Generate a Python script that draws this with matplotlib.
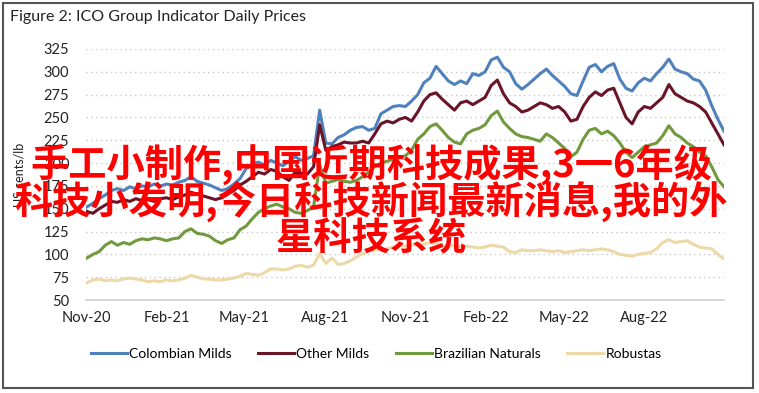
import numpy as np
import pandas as pd
import matplotlib
matplotlib.use("Agg")
import matplotlib.pyplot as plt
import matplotlib.dates as mdates
from matplotlib.patches import Rectangle

# weekly readings (US cents/lb), Nov 2020 - Oct 2022
dates = pd.date_range("2020-11-02", periods=105, freq="7D")

colombian = [152, 156, 161, 165, 170, 172, 170, 174, 172, 175,
             174, 177, 175, 177, 176, 179, 181, 185, 180, 178,
             176, 173, 170, 172, 177, 183, 194, 199, 201, 198,
             203, 200, 197, 202, 207, 203, 205, 208, 258, 222,
             221, 228, 231, 236, 239, 240, 236, 238, 254, 258,
             262, 263, 262, 268, 275, 288, 293, 306, 298, 290,
             286, 290, 287, 298, 296, 300, 313, 316, 305, 300,
             287, 281, 286, 292, 298, 303, 296, 290, 284, 276,
             274, 290, 305, 308, 300, 306, 309, 292, 282, 279,
             288, 293, 290, 298, 305, 314, 303, 300, 298, 292,
             290, 280, 263, 248, 235]

other_milds = [147, 145, 150, 154, 158, 157, 160, 158, 161, 159,
               160, 158, 161, 162, 160, 163, 165, 168, 166, 164,
               162, 160, 162, 166, 170, 176, 180, 185, 190, 188,
               193, 191, 185, 181, 190, 189, 188, 196, 242, 214,
               218, 220, 223, 222, 222, 224, 222, 232, 243, 246,
               244, 248, 250, 246, 256, 268, 275, 277, 270, 264,
               258, 266, 268, 264, 268, 272, 285, 291, 276, 266,
               262, 256, 258, 262, 266, 264, 260, 262, 256, 246,
               248, 262, 272, 278, 274, 280, 282, 266, 250, 243,
               256, 262, 260, 266, 272, 286, 276, 272, 268, 266,
               262, 256, 244, 232, 220]

brazilian = [96, 100, 103, 110, 114, 110, 113, 111, 115, 117,
             116, 118, 117, 115, 117, 118, 125, 128, 123, 122,
             120, 115, 112, 116, 118, 127, 131, 139, 146, 150,
             153, 155, 152, 150, 146, 145, 148, 152, 198, 178,
             180, 182, 180, 179, 181, 185, 190, 196, 200, 202,
             204, 206, 208, 214, 226, 232, 240, 243, 236, 228,
             223, 221, 232, 236, 238, 242, 252, 257, 245, 238,
             232, 229, 228, 226, 224, 232, 228, 222, 216, 207,
             212, 226, 236, 238, 232, 235, 230, 222, 212, 206,
             212, 218, 220, 222, 230, 241, 232, 228, 222, 218,
             212, 208, 196, 182, 174]

robustas = [69, 72, 73, 71, 72, 71, 73, 74, 73, 72,
            70, 71, 70, 72, 71, 72, 74, 77, 75, 73,
            73, 72, 72, 73, 74, 76, 79, 78, 77, 80,
            84, 84, 83, 84, 87, 88, 86, 88, 101, 90,
            96, 89, 90, 93, 97, 101, 104, 105, 105, 106,
            108, 110, 109, 110, 112, 111, 113, 112, 110, 109,
            110, 108, 109, 108, 107, 108, 110, 109, 108, 103,
            102, 105, 104, 104, 105, 104, 103, 104, 102, 103,
            104, 105, 104, 105, 106, 105, 103, 100, 99, 98,
            100, 101, 102, 106, 113, 116, 113, 114, 115, 111,
            108, 107, 106, 100, 95]

series = ["Colombian Milds", "Other Milds", "Brazilian Naturals", "Robustas"]
colors = ["#4F81BD", "#6A1428", "#71993E", "#EDD8A8"]

y_ticks = [50, 75, 100, 125, 150, 175, 200, 225, 250, 275, 300, 325]
x_ticks = pd.to_datetime(["2020-11-01", "2021-02-01", "2021-05-01", "2021-08-01",
                          "2021-11-01", "2022-02-01", "2022-05-01", "2022-08-01"])

overlay_lines = ["手工小制作,中国近期科技成果,3一6年级",
                 "科技小发明,今日科技新闻最新消息,我的外",
                 "星科技系统"]

plt.rcParams["font.family"] = ["Lato", "DejaVu Sans"]

fig = plt.figure(figsize=(7.59, 3.93), dpi=100)
ax = fig.add_axes([86 / 759, 1 - 300 / 393, (724 - 86) / 759, (300 - 49) / 393])

for vals, name, c in zip([colombian, other_milds, brazilian, robustas], series, colors):
    ax.plot(dates, vals, color=c, lw=2.2, label=name, solid_joinstyle="round")

ax.set_xlim(pd.Timestamp("2020-11-01"), pd.Timestamp("2022-10-31"))
ax.set_ylim(50, 325)
ax.set_yticks(y_ticks)
ax.set_xticks(x_ticks)
ax.xaxis.set_major_formatter(mdates.DateFormatter("%b-%y"))
ax.tick_params(length=0, labelsize=10.5, colors="#222222")
ax.tick_params(axis="y", pad=12)
ax.tick_params(axis="x", pad=8)
for t in y_ticks[1:]:
    ax.axhline(t, color="#C8C8C8", lw=1.0, ls=(0, (1, 2.5)), zorder=0)
for s in ["top", "right", "left"]:
    ax.spines[s].set_visible(False)
ax.spines["bottom"].set_color("#D0D0D0")
ax.spines["bottom"].set_linewidth(1.2)
ax.set_ylabel("US cents/lb", fontsize=9, color="#222222")
ax.yaxis.set_label_coords(-(86 - 25) / 638, 0.5)

ax.legend(loc="upper center", bbox_to_anchor=(0.455, -0.14), ncol=4, frameon=False,
          fontsize=10, handlelength=2.6, handletextpad=0.15, columnspacing=1.9)

fig.text(10 / 759, 1 - 17 / 393, "Figure 2: ICO Group Indicator Daily Prices",
         fontsize=11.5, va="center", ha="left", color="#222222")

fig.patches.append(Rectangle((3 / 759, 5 / 393), 750 / 759, 385 / 393,
                             transform=fig.transFigure, fill=False,
                             edgecolor="#555555", lw=1.5))

for i, line in enumerate(overlay_lines):
    fig.text(371 / 759, 1 - (165 + 37 * i) / 393, line, fontsize=27.5,
             family=["Noto Sans CJK SC", "DejaVu Sans"], weight="bold",
             color="#FF0000", ha="center", va="center")

fig.savefig("out.png", dpi=100)
